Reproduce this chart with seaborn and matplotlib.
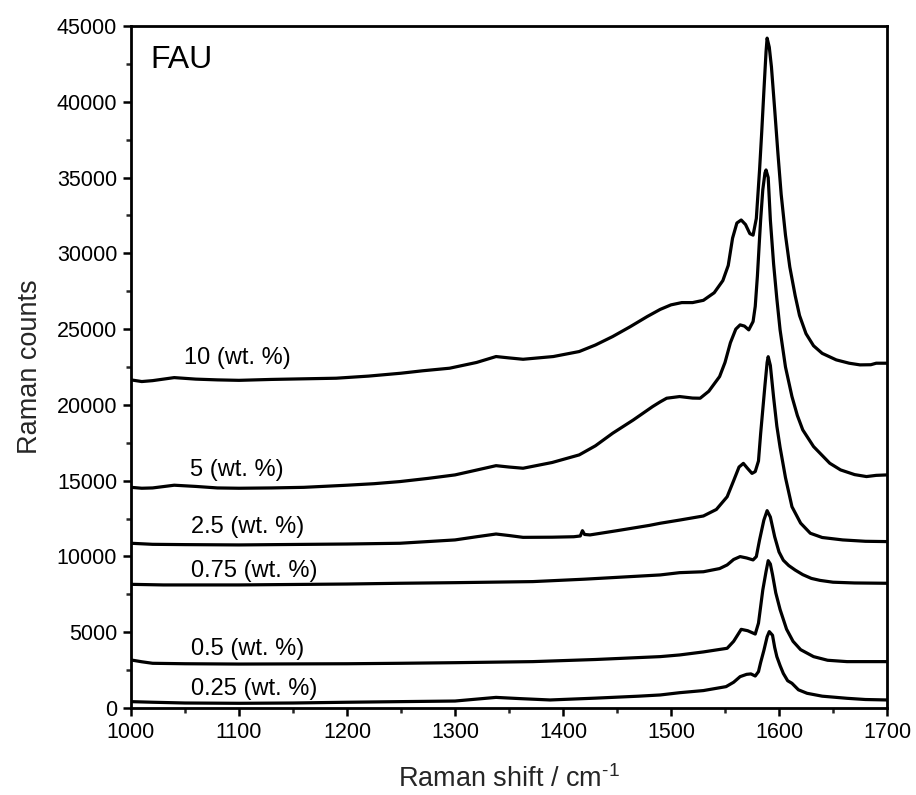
import matplotlib
matplotlib.use("Agg")
import matplotlib.pyplot as plt
import seaborn as sns
import pandas as pd

# ---- data ----
x_10 = [1000, 1010, 1020, 1040, 1060, 1080, 1100, 1130, 1160, 1190, 1220, 1250, 1270, 1295, 1320,
        1338, 1350, 1363, 1391, 1415, 1430, 1446, 1462, 1478, 1490, 1500, 1510, 1520, 1530, 1540,
        1548, 1553, 1557, 1561, 1565, 1569, 1573, 1576, 1579, 1582, 1584, 1586, 1588, 1589, 1591,
        1593, 1596, 1599, 1602, 1606, 1610, 1615, 1619, 1625, 1632, 1640, 1653, 1665, 1675, 1685,
        1690, 1700]
y_10 = [21650, 21540, 21600, 21800, 21700, 21650, 21620, 21680, 21720, 21760, 21900, 22090, 22250, 22420, 22800,
        23190, 23100, 23010, 23190, 23520, 23950, 24510, 25150, 25830, 26300, 26600, 26750, 26750, 26900, 27400,
        28200, 29200, 31000, 32000, 32200, 31900, 31300, 31200, 32300, 35500, 38000, 40700, 43300, 44200, 43600,
        42300, 39500, 36600, 33900, 31200, 29100, 27200, 25900, 24700, 23900, 23400, 22970, 22750, 22640, 22650,
        22750, 22750]

x_5 = [1000, 1010, 1020, 1040, 1060, 1080, 1100, 1130, 1160, 1200, 1225, 1249, 1275, 1300, 1320,
       1338, 1350, 1363, 1390, 1415, 1430, 1446, 1465, 1483, 1490, 1496, 1508, 1520, 1527, 1535,
       1545, 1550, 1555, 1560, 1564, 1568, 1572, 1576, 1578, 1580, 1582, 1583, 1585, 1587, 1588,
       1590, 1592, 1595, 1598, 1601, 1606, 1612, 1617, 1622, 1632, 1647, 1657, 1670, 1681, 1690,
       1700]
y_5 = [14560, 14500, 14520, 14700, 14620, 14520, 14500, 14520, 14560, 14700, 14800, 14940, 15150, 15380, 15700,
       15990, 15900, 15820, 16200, 16700, 17300, 18130, 19000, 19890, 20200, 20440, 20550, 20450, 20440, 20900,
       21870, 22800, 24100, 25000, 25280, 25200, 24950, 25500, 26500, 28500, 31000, 32200, 34200, 35300, 35500,
       35000, 32200, 29300, 27000, 24950, 22500, 20550, 19300, 18350, 17250, 16150, 15710, 15400, 15270, 15350,
       15380]

x_25 = [1000, 1020, 1050, 1100, 1150, 1200, 1249, 1300, 1320, 1338, 1350, 1363, 1390, 1410, 1416,
        1418, 1420, 1425, 1450, 1480, 1490, 1508, 1530, 1542, 1552, 1558, 1563, 1567, 1571, 1575,
        1578, 1581, 1583, 1585, 1587, 1589, 1590, 1592, 1595, 1598, 1601, 1606, 1612, 1620, 1629,
        1640, 1659, 1680, 1700]
y_25 = [10870, 10800, 10780, 10760, 10790, 10820, 10870, 11090, 11300, 11480, 11380, 11260, 11270, 11300, 11350,
        11700, 11450, 11420, 11700, 12050, 12190, 12400, 12670, 13100, 13940, 15000, 15900, 16140, 15800, 15480,
        15600, 16300, 18100, 19700, 21300, 22800, 23180, 22600, 20500, 18600, 17200, 15200, 13280, 12200, 11530,
        11250, 11090, 11000, 10980]

x_075 = [1000, 1030, 1100, 1200, 1249, 1300, 1372, 1420, 1470, 1490, 1508, 1530, 1545, 1552, 1558,
         1564, 1570, 1576, 1579, 1582, 1586, 1589, 1592, 1596, 1600, 1604, 1609, 1615, 1622, 1630,
         1638, 1650, 1670, 1700]
y_075 = [8160, 8120, 8120, 8180, 8230, 8270, 8340, 8500, 8700, 8780, 8930, 8990, 9200, 9440, 9800,
         9990, 9900, 9770, 9990, 11090, 12400, 13020, 12600, 11300, 10300, 9750, 9400, 9100, 8800, 8550,
         8420, 8300, 8250, 8230]

x_05 = [1000, 1010, 1020, 1050, 1100, 1200, 1249, 1300, 1372, 1430, 1490, 1508, 1530, 1552, 1558,
        1565, 1571, 1578, 1581, 1583, 1585, 1588, 1590, 1592, 1594, 1597, 1601, 1607, 1613, 1620,
        1632, 1645, 1663, 1700]
y_05 = [3170, 3050, 2950, 2920, 2900, 2920, 2950, 2990, 3060, 3200, 3390, 3500, 3700, 3940, 4400,
        5190, 5100, 4880, 5600, 6690, 7790, 9000, 9720, 9500, 8800, 7600, 6500, 5200, 4400, 3850,
        3390, 3150, 3060, 3060]

x_025 = [1000, 1020, 1050, 1100, 1150, 1200, 1249, 1300, 1338, 1360, 1388, 1430, 1470, 1490, 1508,
         1530, 1551, 1558, 1564, 1570, 1574, 1578, 1581, 1583, 1586, 1589, 1591, 1594, 1596, 1598,
         1601, 1604, 1608, 1612, 1618, 1626, 1640, 1663, 1680, 1700]
y_025 = [420, 380, 330, 310, 330, 380, 420, 460, 700, 620, 530, 650, 780, 860, 1010,
         1150, 1410, 1700, 2070, 2220, 2250, 2110, 2400, 3000, 3800, 4700, 5040, 4800, 4000, 3390,
         2800, 2280, 1800, 1630, 1200, 970, 780, 640, 560, 530]

labels = ["10 (wt. %)", "5 (wt. %)", "2.5 (wt. %)", "0.75 (wt. %)", "0.5 (wt. %)", "0.25 (wt. %)"]
label_x = [1049, 1055, 1056, 1056, 1056, 1056]
label_y = [23100, 15710, 11970, 9040, 3890, 1250]

series_x = [x_10, x_5, x_25, x_075, x_05, x_025]
series_y = [y_10, y_5, y_25, y_075, y_05, y_025]

# ---- style ----
sns.set_theme(style="ticks")
plt.rcParams["font.family"] = ["Liberation Sans", "DejaVu Sans"]
plt.rcParams["mathtext.fontset"] = "custom"
plt.rcParams["mathtext.rm"] = "Liberation Sans"
plt.rcParams["mathtext.it"] = "Liberation Sans"
plt.rcParams["mathtext.default"] = "regular"

fig = plt.figure(figsize=(9.16, 7.95), dpi=100)
ax = fig.add_axes([131 / 916, 1 - 708 / 795, (887 - 131) / 916, (708 - 26) / 795])

for lab, xs, ys in zip(labels, series_x, series_y):
    df = pd.DataFrame({"x": xs, "y": ys})
    sns.lineplot(data=df, x="x", y="y", ax=ax, color="black", lw=2.3,
                 sort=False, estimator=None)

for lab, lx, ly in zip(labels, label_x, label_y):
    ax.text(lx, ly, lab, fontsize=17, ha="left", va="center", color="black")

ax.text(1018, 42770, "FAU", fontsize=23, ha="left", va="center", color="black")

ax.set_xlim(1000, 1700)
ax.set_ylim(0, 45000)
ax.set_xticks(range(1000, 1701, 100))
ax.set_xticks(range(1050, 1700, 100), minor=True)
ax.set_yticks(range(0, 45001, 5000))
ax.set_yticks(range(2500, 45000, 5000), minor=True)

ax.set_xlabel(r"Raman shift / cm$^{\text{-1}}$", fontsize=19.5, labelpad=16)
ax.set_ylabel("Raman counts", fontsize=19.5, labelpad=10)

for s in ax.spines.values():
    s.set_linewidth(2.0)
    s.set_color("black")
ax.tick_params(axis="both", which="major", direction="out", length=6, width=1.8,
               labelsize=15.5, colors="black", pad=4)
ax.tick_params(axis="both", which="minor", direction="out", length=3.5, width=1.8)
ax.tick_params(top=False, right=False, which="both")

fig.savefig("out.png", dpi=100)
